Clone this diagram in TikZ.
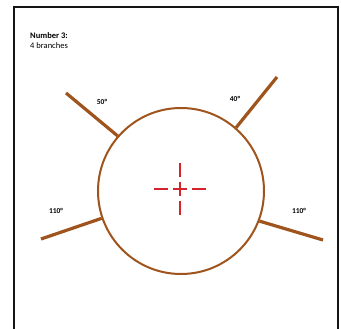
\documentclass[tikz,border=0pt]{standalone}
\usepackage{fontspec}
\setmainfont{Carlito}
\usepackage{tikz}
\usetikzlibrary{positioning,calc}
\definecolor{barkbrown}{RGB}{158,84,28}
\definecolor{markred}{RGB}{214,36,44}
\definecolor{framegray}{RGB}{20,20,20}

\begin{document}
\begin{tikzpicture}[x=1pt,y=-1pt,
  branch/.style={line width=3.2pt, barkbrown},
  anglelabel/.style={font=\fontsize{7.5}{9}\selectfont\bfseries}]
  \useasboundingbox (0,0) rectangle (341,329);
  \draw[framegray, line width=1.3pt] (14,345) -- (14,7) -- (338,7) -- (338,345);
  \node[anchor=north west, align=left, inner sep=0pt, font=\fontsize{8.5}{10}\selectfont] (title) at (30,32)
    {\textbf{Number 3:}\\4 branches};
  % trunk and branches
  \node[circle, draw=barkbrown, line width=2pt, minimum size=166pt, inner sep=0pt] (trunk) at (181,191) {};
  \coordinate (ul) at (66,93);
  \coordinate (ur) at (277,77);
  \coordinate (ll) at (41,239);
  \coordinate (lr) at (323,240);
  \draw[branch] (trunk.139.8) -- (ul);
  \draw[branch] (trunk.49.8) -- (ur);
  \draw[branch] (trunk.199.5) -- (ll);
  \draw[branch] (trunk.339.8) -- (lr);
  \node[anglelabel] (a50) at (102,102) {50°};
  \node[anglelabel] (a40) at (235,99) {40°};
  \node[anglelabel] (a110l) at (56,211) {110°};
  \node[anglelabel] (a110r) at (299,211) {110°};
  % centre mark
  \coordinate (mid) at (180,189);
  \draw[markred, line width=1.1pt, dash pattern=on 14pt off 5pt] ($(mid)+(-26,0)$) -- ($(mid)+(26,0)$);
  \draw[markred, line width=1.1pt, dash pattern=on 14pt off 5pt] ($(mid)+(0,-26)$) -- ($(mid)+(0,26)$);
\end{tikzpicture}
\end{document}
